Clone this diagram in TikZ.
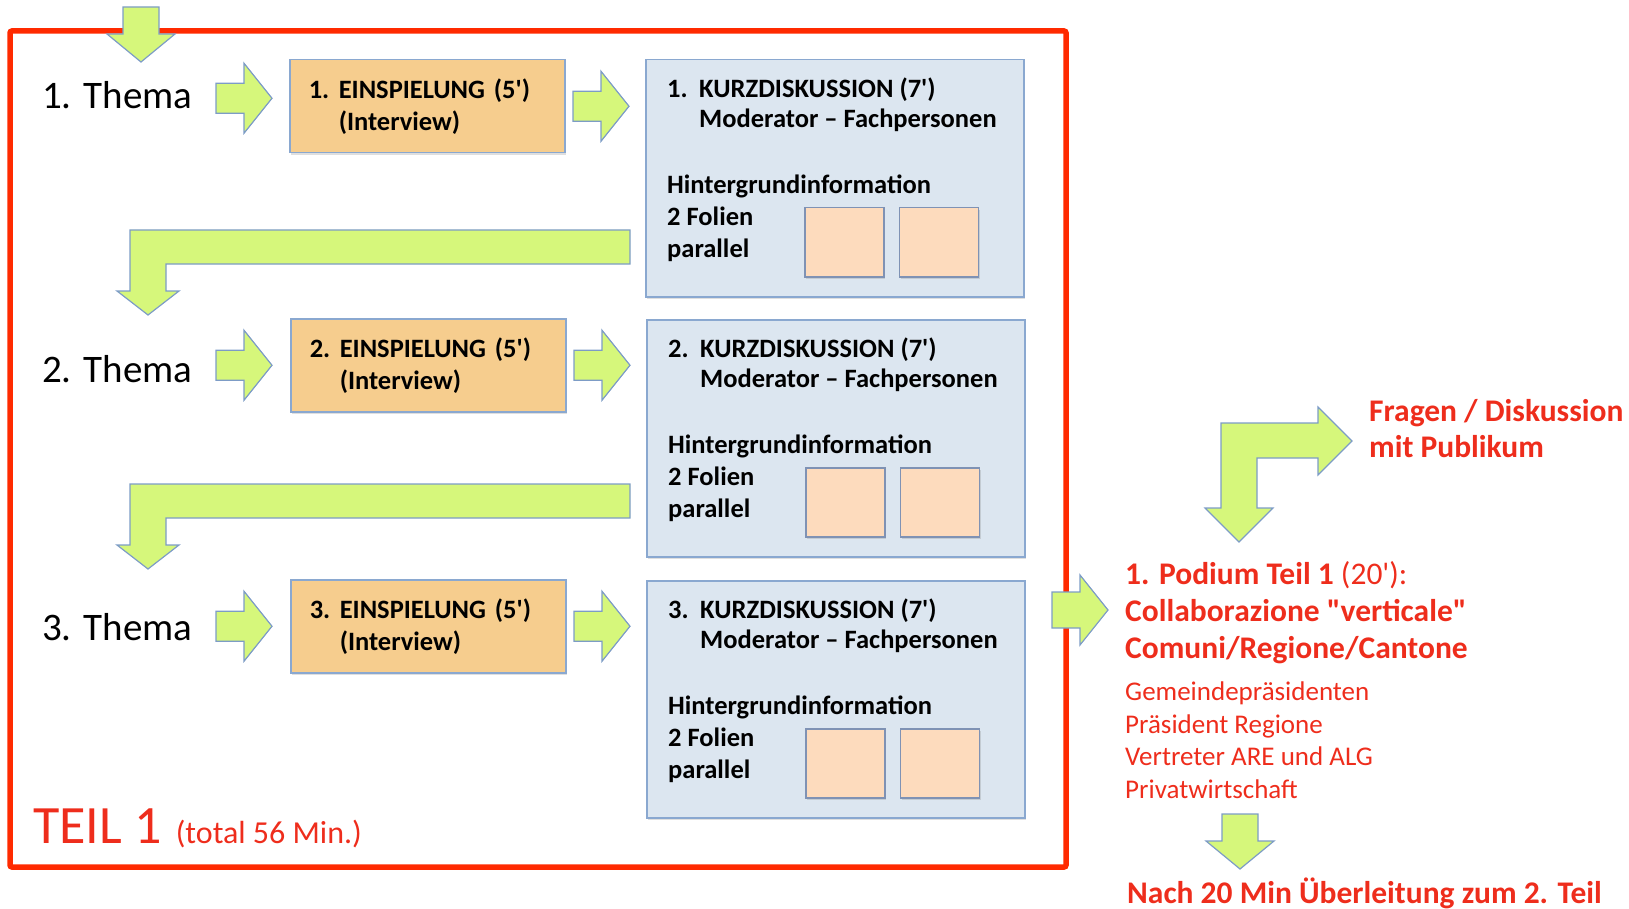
\documentclass[tikz,border=0pt]{standalone}
\usepackage{fontspec}
\setmainfont{Carlito}
\usetikzlibrary{positioning,calc,shadows}

\definecolor{framered}{HTML}{FF2A00}
\definecolor{textred}{HTML}{EE2D1C}
\definecolor{arrowgreen}{HTML}{D6F77B}
\definecolor{arrowline}{HTML}{7D9CC6}
\definecolor{einspfill}{HTML}{F6CD8E}
\definecolor{kurzfill}{HTML}{DCE6F0}
\definecolor{boxline}{HTML}{8AA8D0}
\definecolor{foliefill}{HTML}{FDDBBD}
\definecolor{folieline}{HTML}{7F92B4}

\newcommand{\sq}{\textquotesingle}
\newcommand{\dq}{\textquotedbl}
\newcommand{\fs}[2]{\fontsize{#1}{#2}\selectfont}

\tikzset{
  softshadow/.style={drop shadow={shadow xshift=1.5pt,shadow yshift=-2pt,opacity=.25}},
  blk/.style={fill=arrowgreen, draw=arrowline, line width=1.2pt, line join=miter},
  pics/rarr/.style={code={\draw[blk] (0,0) -- (-28,-35) -- (-28,-#1) -- (-56,-#1) -- (-56,#1) -- (-28,#1) -- (-28,35) -- cycle;}},
  pics/rarr/.default=15,
  pics/darr/.style={code={\draw[blk] (0,0) -- (34,-28) -- (18,-28) -- (18,-55) -- (-18,-55) -- (-18,-28) -- (-34,-28) -- cycle;}},
  pics/larr/.style={code={\draw[blk] (0,0) -- (31,-24) -- (18,-24) -- (18,-51) -- (482,-51) -- (482,-85) -- (-18,-85) -- (-18,-24) -- (-31,-24) -- cycle;}},
  thema/.style={anchor=west, inner sep=0pt, font=\fs{39}{47}},
  einsp/.style={draw=boxline, line width=1.5pt, fill=einspfill, anchor=north west,
    minimum width=275pt, minimum height=93pt, text width=237pt, inner xsep=19pt,
    align=left, font=\bfseries\fs{26.5}{32}, softshadow},
  kurz/.style={draw=boxline, line width=1.5pt, fill=kurzfill, anchor=north west,
    minimum width=378pt, minimum height=237pt, softshadow},
  kurztext/.style={anchor=north west, inner sep=0pt, align=left, font=\bfseries\fs{26.5}{32}},
  folie/.style={draw=folieline, line width=1.5pt, fill=foliefill, anchor=north west,
    minimum width=79pt, minimum height=69pt, inner sep=0pt, softshadow},
  redtxt/.style={text=textred, inner sep=0pt, align=left},
  frame/.style={draw=framered, line width=5.5pt, rounded corners=2pt},
}

\begin{document}
\begin{tikzpicture}[x=1pt,y=-1pt]
\useasboundingbox (0,0) rectangle (1629,909);
\draw[frame] (10,31) rectangle (1066,867);

% Themen
\node[thema] (thema1) at (42,95) {1. Thema};
\node[thema] (thema2) at (42,369) {2. Thema};
\node[thema] (thema3) at (42,627) {3. Thema};

% Einspielungen
\node[einsp] (einsp1) at (289,59) {\makebox[30pt][l]{1.}EINSPIELUNG (5\sq)\\\hspace*{30pt}(Interview)};
\node[einsp] (einsp2) at (290,318) {\makebox[30pt][l]{2.}EINSPIELUNG (5\sq)\\\hspace*{30pt}(Interview)};
\node[einsp] (einsp3) at (290,579) {\makebox[30pt][l]{3.}EINSPIELUNG (5\sq)\\\hspace*{30pt}(Interview)};

% Kurzdiskussionen
\node[kurz] (kurz1) at (645,59) {};
\node[kurz] (kurz2) at (646,319) {};
\node[kurz] (kurz3) at (646,580) {};

\node[kurztext] (ktext1) at ($(kurz1.north west)+(22,19)$) {\makebox[32pt][l]{1.}KURZDISKUSSION (7\sq)\\[-2pt]\hspace*{32pt}Moderator – Fachpersonen\\[34pt]Hintergrundinformation\\2 Folien\\parallel};
\node[kurztext] (ktext2) at ($(kurz2.north west)+(22,19)$) {\makebox[32pt][l]{2.}KURZDISKUSSION (7\sq)\\[-2pt]\hspace*{32pt}Moderator – Fachpersonen\\[34pt]Hintergrundinformation\\2 Folien\\parallel};
\node[kurztext] (ktext3) at ($(kurz3.north west)+(22,19)$) {\makebox[32pt][l]{3.}KURZDISKUSSION (7\sq)\\[-2pt]\hspace*{32pt}Moderator – Fachpersonen\\[34pt]Hintergrundinformation\\2 Folien\\parallel};

\node[folie] (folie1a) at ($(kurz1.north west)+(159,148)$) {};
\node[folie, right=14pt of folie1a] (folie1b) {};
\node[folie] (folie2a) at ($(kurz2.north west)+(159,148)$) {};
\node[folie, right=14pt of folie2a] (folie2b) {};
\node[folie] (folie3a) at ($(kurz3.north west)+(159,148)$) {};
\node[folie, right=14pt of folie3a] (folie3b) {};

% Pfeile
\pic at (141,62) {darr};
\pic at ($(einsp1.west)+(-17,-8)$) {rarr};
\pic at ($(einsp2.west)+(-18,0)$) {rarr};
\pic at ($(einsp3.west)+(-18,0)$) {rarr};
\pic at ($(einsp1.east -| kurz1.west)+(-16,0)$) {rarr};
\pic at ($(einsp2.east -| kurz2.west)+(-16,0)$) {rarr};
\pic at ($(einsp3.east -| kurz3.west)+(-16,0)$) {rarr};
\pic at (148,315) {larr};
\pic at (148,569) {larr};
\pic at (1108,610) {rarr=18};
\draw[blk] (1239,542) -- (1273,508) -- (1257,508) -- (1257,458) -- (1318,458) -- (1318,475)
  -- (1352,441) -- (1318,407) -- (1318,423) -- (1221,423) -- (1221,508) -- (1205,508) -- cycle;
\pic at (1240,869) {darr};

% Texte rechts
\node[redtxt, anchor=west, font=\bfseries\fs{31.5}{36}] (fragen) at (1369,429) {Fragen / Diskussion\\mit Publikum};
\node[redtxt, anchor=west, font=\bfseries\fs{31.5}{37}] (podium) at (1125,613) {1. Podium Teil 1 {\mdseries (20\sq):}\\Collaborazione \dq verticale\dq\\Comuni/Regione/Cantone};
\node[redtxt, anchor=west, font=\fs{27}{32.5}] (gaeste) at (1125,740) {Gemeindepräsidenten\\Präsident Regione\\Vertreter ARE und ALG\\Privatwirtschaft};
\node[redtxt, anchor=west, font=\bfseries\fs{31.5}{37}] (nach) at (1127,893) {Nach 20 Min Überleitung zum 2. Teil};
\node[redtxt, anchor=base west] (teil) at (33,843) {{\fs{54}{62}TEIL 1}\hspace{14pt}{\fs{32}{38}(total 56 Min.)}};
\end{tikzpicture}
\end{document}
